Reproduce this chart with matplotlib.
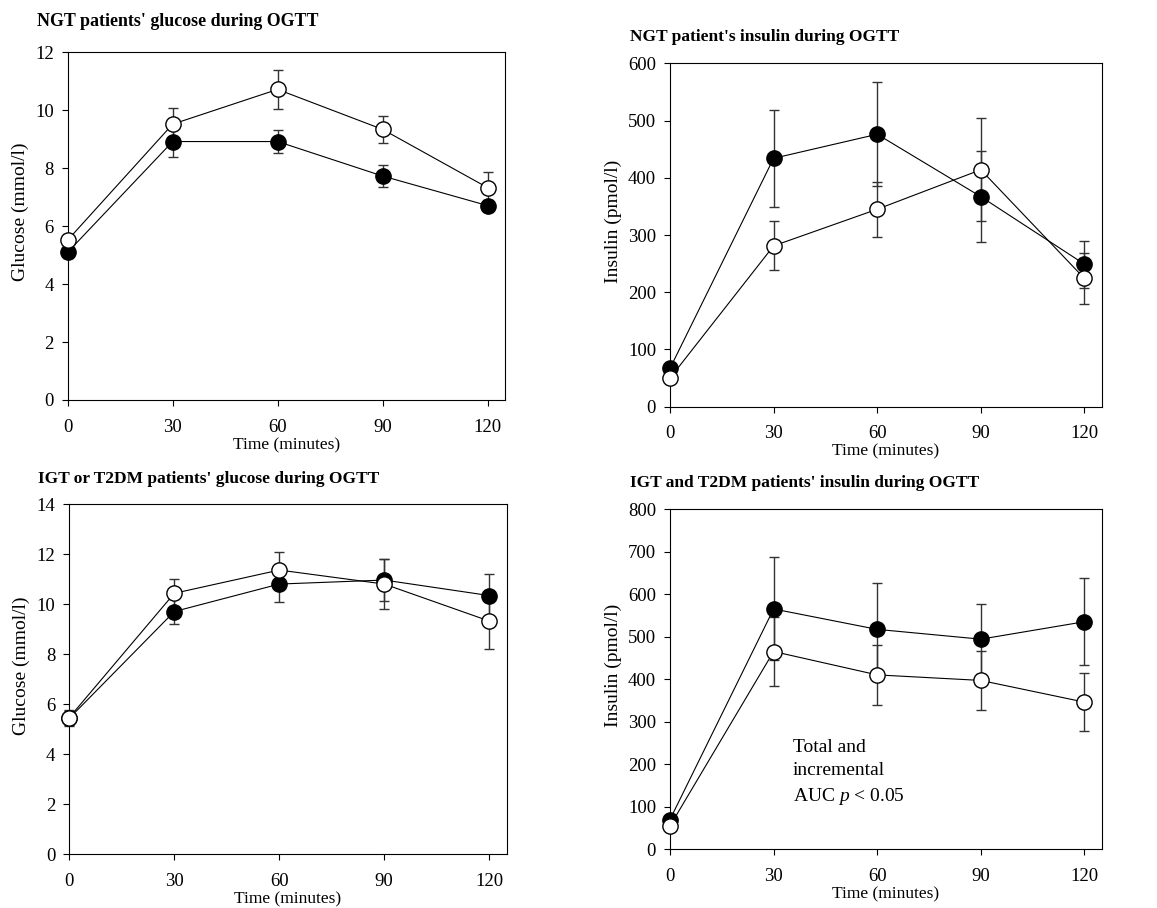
import matplotlib
matplotlib.use('Agg')
import matplotlib.pyplot as plt

plt.rcParams['font.family'] = 'Liberation Serif'
plt.rcParams['mathtext.fontset'] = 'custom'
plt.rcParams['mathtext.it'] = 'Liberation Serif:italic'

time = [0, 30, 60, 90, 120]

# NGT glucose (mmol/l)
ngt_glu_filled = [5.1, 8.92, 8.92, 7.73, 6.71]
ngt_glu_filled_err = [0.2, 0.52, 0.4, 0.38, 0.2]
ngt_glu_open = [5.52, 9.52, 10.72, 9.34, 7.33]
ngt_glu_open_err = [0.2, 0.57, 0.68, 0.47, 0.55]

# NGT insulin (pmol/l)
ngt_ins_filled = [67, 434, 476, 367, 249]
ngt_ins_filled_err = [10, 85, 91, 80, 41]
ngt_ins_open = [50, 281, 345, 414, 224]
ngt_ins_open_err = [8, 43, 48, 90, 44]

# IGT / T2DM glucose (mmol/l)
igt_glu_filled = [5.44, 9.71, 10.81, 10.97, 10.35]
igt_glu_filled_err = [0.3, 0.51, 0.7, 0.85, 0.85]
igt_glu_open = [5.47, 10.44, 11.37, 10.81, 9.33]
igt_glu_open_err = [0.3, 0.56, 0.73, 1.0, 1.13]

# IGT / T2DM insulin (pmol/l)
igt_ins_filled = [70, 565, 517, 494, 535]
igt_ins_filled_err = [10, 121, 108, 82, 102]
igt_ins_open = [55, 465, 410, 397, 346]
igt_ins_open_err = [8, 80, 70, 70, 68]

W, H = 1157, 908
fig = plt.figure(figsize=(W / 100, H / 100), dpi=100)


def px_axes(left, top, right, bottom):
    return fig.add_axes([left / W, 1 - bottom / H, (right - left) / W, (bottom - top) / H])


def draw(ax, f, fe, o, oe, ymax, ystep, ylabel, title, tx, ty, tsize=12.5):
    for y, e, fc in [(f, fe, 'black'), (o, oe, 'white')]:
        ax.errorbar(time, y, yerr=e, fmt='none', ecolor='#333333', elinewidth=1,
                    capsize=3.6, capthick=1, zorder=2, clip_on=False)
        ax.plot(time, y, '-', color='black', lw=0.8, zorder=3, clip_on=False)
        ax.plot(time, y, 'o', ms=11, mfc=fc, mec='black', mew=1, zorder=4, clip_on=False)
    ax.set_xlim(0, 125)
    ax.set_ylim(0, ymax)
    ax.set_xticks(time)
    ax.set_yticks(range(0, ymax + 1, ystep))
    ax.tick_params(direction='out', length=4, labelsize=13.5)
    ax.tick_params(axis='y', pad=6)
    ax.tick_params(axis='x', pad=9.5)
    ax.set_ylabel(ylabel, fontsize=14, labelpad=4.5)
    ax.set_xlabel('Time (minutes)', fontsize=12.5, labelpad=1)
    # SigmaPlot puts the y title a bit above the middle of the axis
    h = ax.get_position().height * H
    ax.yaxis.label.set_y(0.5 + 14 / h)
    fig.text(tx / W, 1 - ty / H, title, fontsize=tsize, fontweight='bold', va='baseline')


ax1 = px_axes(67.7, 52.3, 505, 400)
draw(ax1, ngt_glu_filled, ngt_glu_filled_err, ngt_glu_open, ngt_glu_open_err,
     12, 2, 'Glucose (mmol/l)', "NGT patients' glucose during OGTT", 36.7, 26, tsize=12.9)

ax2 = px_axes(670, 63.3, 1101.7, 406.7)
draw(ax2, ngt_ins_filled, ngt_ins_filled_err, ngt_ins_open, ngt_ins_open_err,
     600, 100, 'Insulin (pmol/l)', "NGT patient's insulin during OGTT", 630, 40.7)

ax3 = px_axes(69.3, 504.3, 506.7, 854.3)
draw(ax3, igt_glu_filled, igt_glu_filled_err, igt_glu_open, igt_glu_open_err,
     14, 2, 'Glucose (mmol/l)', "IGT or T2DM patients' glucose during OGTT", 38.3, 482.7)

ax4 = px_axes(670, 509, 1101.7, 849.3)
draw(ax4, igt_ins_filled, igt_ins_filled_err, igt_ins_open, igt_ins_open_err,
     800, 100, 'Insulin (pmol/l)', "IGT and T2DM patients' insulin during OGTT", 630, 486.7)

ax4.text(35.6, 259, 'Total and\nincremental\nAUC $p$ < 0.05', fontsize=14, va='top', ha='left',
         linespacing=1.45)

fig.savefig('out.png', dpi=100)
